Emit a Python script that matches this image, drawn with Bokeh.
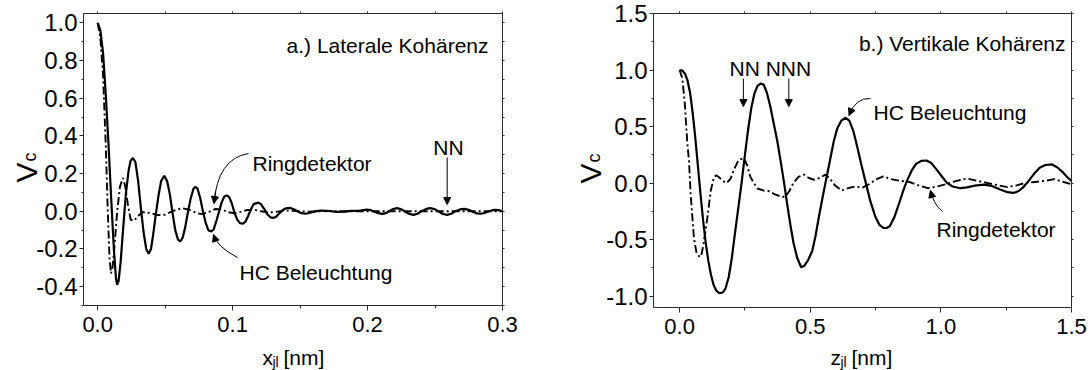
from bokeh.plotting import figure
from bokeh.models import (Range1d, FixedTicker, LinearAxis, Label, Arrow, NormalHead,
                          PrintfTickFormatter, CustomJSTickFormatter)
from bokeh.embed import file_html
from bokeh.resources import INLINE
import math

# ---------------- data: a.) lateral coherence ----------------
LAT_X_HC = [0.000, 0.002, 0.004, 0.006, 0.008, 0.010, 0.012, 0.0135, 0.0144, 0.0155,
            0.017, 0.019, 0.021, 0.023, 0.0245, 0.0262, 0.028, 0.030, 0.032, 0.034,
            0.036, 0.0378, 0.0395, 0.041, 0.043, 0.045, 0.047, 0.0494, 0.0515, 0.0535,
            0.0555, 0.0575, 0.0595, 0.0613, 0.063, 0.065, 0.067, 0.069, 0.071, 0.0724,
            0.074, 0.076, 0.078, 0.080, 0.082, 0.0842, 0.086, 0.088, 0.090, 0.092,
            0.094, 0.0958, 0.0975, 0.0995, 0.1015, 0.1035, 0.1055, 0.1077, 0.1095, 0.1115,
            0.1135, 0.1155, 0.119, 0.121, 0.1235, 0.126, 0.128, 0.130, 0.132, 0.1345,
            0.137, 0.1395, 0.1427, 0.145, 0.148, 0.151, 0.154, 0.157, 0.160, 0.165,
            0.170, 0.177, 0.183, 0.188, 0.194, 0.1995, 0.2025, 0.205, 0.208, 0.2107,
            0.2135, 0.216, 0.219, 0.2218, 0.2245, 0.2275, 0.231, 0.234, 0.237, 0.240,
            0.2435, 0.2464, 0.2495, 0.2525, 0.2555, 0.2588, 0.262, 0.265, 0.2685, 0.2717,
            0.275, 0.278, 0.281, 0.284, 0.287, 0.290, 0.2925, 0.2946, 0.297, 0.300]
LAT_V_HC = [1.00, 0.96, 0.84, 0.62, 0.36, 0.07, -0.20, -0.35, -0.39, -0.37,
            -0.27, -0.08, 0.10, 0.22, 0.27, 0.283, 0.26, 0.16, 0.02, -0.11,
            -0.20, -0.226, -0.20, -0.13, -0.02, 0.08, 0.16, 0.189, 0.16, 0.09,
            -0.01, -0.10, -0.15, -0.16, -0.14, -0.08, 0.00, 0.07, 0.12, 0.13,
            0.12, 0.07, 0.00, -0.06, -0.10, -0.107, -0.095, -0.05, 0.00, 0.05,
            0.08, 0.084, 0.075, 0.04, -0.01, -0.045, -0.063, -0.066, -0.055, -0.025,
            0.01, 0.038, 0.046, 0.038, 0.012, -0.018, -0.032, -0.035, -0.03, -0.012,
            0.006, 0.016, 0.018, 0.012, 0.0, -0.010, -0.013, -0.009, -0.002, 0.004,
            0.003, -0.003, -0.002, 0.002, 0.004, 0.009, 0.006, -0.002, -0.010, -0.014,
            -0.01, 0.0, 0.012, 0.017, 0.012, 0.0, -0.014, -0.019, -0.013, 0.0,
            0.013, 0.017, 0.012, 0.0, -0.013, -0.019, -0.013, 0.0, 0.01, 0.013,
            0.008, -0.002, -0.011, -0.013, -0.008, 0.0, 0.006, 0.008, 0.006, 0.0]

LAT_X_RING = [0.000, 0.002, 0.004, 0.006, 0.0075, 0.0088, 0.0099, 0.011, 0.0125, 0.0145,
              0.0165, 0.0187, 0.0205, 0.0225, 0.0245, 0.027, 0.030, 0.033, 0.036, 0.040,
              0.045, 0.050, 0.055, 0.0625, 0.068, 0.073, 0.077, 0.082, 0.087, 0.092,
              0.097, 0.101, 0.106, 0.111, 0.116, 0.121, 0.126, 0.132, 0.138, 0.145,
              0.155, 0.170, 0.200, 0.250, 0.300]
LAT_V_RING = [1.00, 0.92, 0.72, 0.35, 0.00, -0.25, -0.33, -0.30, -0.18, 0.00,
              0.13, 0.177, 0.13, 0.03, -0.045, -0.05, -0.025, -0.005, -0.005, -0.012,
              -0.02, -0.018, 0.000, 0.017, 0.008, -0.008, -0.015, -0.005, 0.012, 0.010,
              -0.005, -0.010, -0.003, 0.007, 0.008, 0.0, -0.006, -0.003, 0.004, 0.003,
              -0.002, 0.001, 0.0, 0.0, 0.0]

# ---------------- data: b.) vertical coherence ----------------
VER_Z_HC = [0.000, 0.010, 0.020, 0.030, 0.040, 0.050, 0.060, 0.070, 0.080, 0.090,
            0.100, 0.110, 0.120, 0.130, 0.140, 0.150, 0.158, 0.166, 0.176, 0.188,
            0.200, 0.212, 0.224, 0.237, 0.250, 0.262, 0.274, 0.286, 0.298, 0.311,
            0.322, 0.334, 0.347, 0.360, 0.374, 0.387, 0.400, 0.412, 0.424, 0.436,
            0.450, 0.465, 0.478, 0.492, 0.5075, 0.520, 0.533, 0.546, 0.558, 0.572,
            0.590, 0.603, 0.618, 0.635, 0.650, 0.665, 0.680, 0.697, 0.713, 0.730,
            0.748, 0.765, 0.780, 0.792, 0.805, 0.822, 0.840, 0.857, 0.870, 0.888,
            0.905, 0.925, 0.945, 0.962, 0.980, 1.000, 1.024, 1.045, 1.075, 1.100,
            1.130, 1.164, 1.195, 1.225, 1.255, 1.278, 1.298, 1.316, 1.336, 1.356,
            1.378, 1.400, 1.425, 1.445, 1.465, 1.485, 1.500]
VER_V_HC = [1.000, 0.995, 0.97, 0.91, 0.80, 0.62, 0.40, 0.15, -0.10, -0.33,
            -0.53, -0.69, -0.81, -0.90, -0.95, -0.97, -0.972, -0.965, -0.93, -0.83,
            -0.66, -0.44, -0.23, 0.00, 0.25, 0.47, 0.66, 0.79, 0.86, 0.881,
            0.87, 0.80, 0.68, 0.53, 0.37, 0.19, 0.00, -0.19, -0.37, -0.53,
            -0.66, -0.744, -0.73, -0.68, -0.60, -0.47, -0.30, -0.14, 0.00, 0.16,
            0.37, 0.48, 0.55, 0.578, 0.55, 0.46, 0.32, 0.15, 0.00, -0.16,
            -0.29, -0.37, -0.395, -0.397, -0.38, -0.30, -0.18, -0.06, 0.02, 0.11,
            0.17, 0.197, 0.200, 0.18, 0.13, 0.07, 0.00, -0.03, -0.045, -0.038,
            -0.022, -0.013, -0.025, -0.055, -0.080, -0.087, -0.07, -0.035, 0.02, 0.08,
            0.135, 0.16, 0.165, 0.14, 0.10, 0.05, 0.02]

VER_Z_RING = [0.000, 0.010, 0.020, 0.029, 0.036, 0.042, 0.049, 0.055, 0.065, 0.077,
              0.085, 0.093, 0.106, 0.119, 0.131, 0.140, 0.152, 0.165, 0.180, 0.195,
              0.208, 0.225, 0.245, 0.258, 0.270, 0.284, 0.300, 0.320, 0.340, 0.365,
              0.390, 0.405, 0.420, 0.435, 0.455, 0.476, 0.495, 0.515, 0.535, 0.558,
              0.575, 0.595, 0.620, 0.645, 0.670, 0.700, 0.725, 0.750, 0.780, 0.810,
              0.845, 0.880, 0.915, 0.950, 0.985, 1.020, 1.060, 1.100, 1.140, 1.180,
              1.220, 1.255, 1.290, 1.320, 1.360, 1.400, 1.435, 1.470, 1.500]
VER_V_RING = [1.00, 0.93, 0.70, 0.37, 0.19, -0.09, -0.31, -0.49, -0.62, -0.655,
              -0.62, -0.515, -0.31, -0.07, 0.05, 0.07, 0.05, 0.02, 0.00, 0.04,
              0.12, 0.20, 0.224, 0.16, 0.06, 0.0, -0.05, -0.065, -0.07, -0.10,
              -0.12, -0.12, -0.07, 0.00, 0.055, 0.075, 0.045, 0.03, 0.045, 0.075,
              0.04, -0.02, -0.065, -0.045, -0.03, -0.04, -0.01, 0.03, 0.06, 0.035,
              0.02, 0.01, -0.02, -0.045, -0.03, -0.01, 0.02, 0.04, 0.02, 0.00,
              -0.02, -0.035, -0.02, 0.00, 0.01, 0.02, 0.035, 0.01, -0.01]

# nearest-neighbour markers
NN_LATERAL = 0.259
NN_VERTICAL = 0.244
NNN_VERTICAL = 0.418

# axis extents and ticks
LAT_XR, LAT_YR = (-0.0105, 0.3), (-0.5, 1.05)
VER_XR, VER_YR = (-0.1, 1.5), (-1.1, 1.5)
LAT_X_TICKS, LAT_X_MINOR = [0.0, 0.1, 0.2, 0.3], [0.05, 0.15, 0.25]
LAT_Y_TICKS = [-0.4, -0.2, 0.0, 0.2, 0.4, 0.6, 0.8, 1.0]
LAT_Y_MINOR = [-0.5, -0.3, -0.1, 0.1, 0.3, 0.5, 0.7, 0.9]
VER_X_TICKS, VER_X_MINOR = [0.0, 0.5, 1.0, 1.5], [0.25, 0.75, 1.25]
VER_Y_TICKS = [-1.0, -0.5, 0.0, 0.5, 1.0, 1.5]
VER_Y_MINOR = [-0.75, -0.25, 0.25, 0.75, 1.25]

# ---------------- styling / page geometry ----------------
W, H = 1091, 370
FONT = "Liberation Sans"
FS = "21px"
INK = "black"
AXIS = "#2b2b2b"
DASHDOT = "8 3 2 3"
# plot boxes on the canvas: left, right, top, bottom (pixels)
BOX_A = (83, 502, 13, 305)
BOX_B = (653, 1071, 13, 307)


class Panel:
    """Maps one plot box onto the full canvas with its own pair of ranges."""

    def __init__(self, box, xr, yr):
        l, r, t, b = box
        self.sx = (xr[1] - xr[0]) / (r - l)
        self.sy = (yr[1] - yr[0]) / (b - t)
        self.x0 = xr[0] - l * self.sx
        self.y1 = yr[1] + t * self.sy
        self.xrange = Range1d(self.x0, xr[1] + (W - r) * self.sx)
        self.yrange = Range1d(yr[0] - (H - b) * self.sy, self.y1)

    def at(self, px, py):
        return self.x0 + px * self.sx, self.y1 - py * self.sy


pa = Panel(BOX_A, LAT_XR, LAT_YR)
pb = Panel(BOX_B, VER_XR, VER_YR)

p = figure(width=W, height=H, x_range=pa.xrange, y_range=pa.yrange,
           output_backend="svg", toolbar_location=None, min_border=0,
           x_axis_location=None, y_axis_location=None)
p.extra_x_ranges = {"b": pb.xrange}
p.extra_y_ranges = {"b": pb.yrange}
p.grid.visible = False
p.outline_line_color = None
p.background_fill_color = "white"
p.border_fill_color = "white"

NAMES = {id(pa): "default", id(pb): "b"}


def rn(panel):
    n = NAMES[id(panel)]
    return dict(x_range_name=n, y_range_name=n)


def styled_axis(panel, ticks, minor, loc, bounds, tick_out, minor_out, standoff,
                labelled, size=FS):
    ax = LinearAxis(ticker=FixedTicker(ticks=ticks, minor_ticks=minor),
                    fixed_location=loc, bounds=bounds, **rn(panel))
    ax.axis_line_color = AXIS
    ax.major_tick_line_color = AXIS
    ax.minor_tick_line_color = AXIS
    ax.major_tick_in = 0
    ax.minor_tick_in = 0
    ax.major_tick_out = tick_out
    ax.minor_tick_out = minor_out
    ax.major_label_standoff = standoff
    if labelled:
        ax.formatter = PrintfTickFormatter(format="%.1f")
        ax.major_label_text_font = FONT
        ax.major_label_text_font_size = size
        ax.major_label_text_color = INK
    else:
        ax.formatter = CustomJSTickFormatter(code="return ''")
    return ax


def add_frame_axes(panel, xr, yr, xt, xm, yt, ym):
    p.add_layout(styled_axis(panel, xt, xm, yr[0], xr, 5, 3, 6, True, "22px"), "below")
    p.add_layout(styled_axis(panel, xt, xm, yr[1], xr, 2, 2, 0, False), "above")
    p.add_layout(styled_axis(panel, yt, ym, xr[0], yr, 4, 2, 2, True, "24px"), "left")
    p.add_layout(styled_axis(panel, yt, ym, xr[1], yr, 2, 2, 0, False), "right")


def text(panel, px, py, s, size=FS, align="left", angle=0.0):
    x, y = panel.at(px, py)
    p.add_layout(Label(x=x, y=y, text=s, text_font=FONT, text_font_size=size,
                       text_color=INK, text_align=align, text_baseline="alphabetic",
                       angle=angle, **rn(panel)))


def arrow(panel, x0, y0, x1, y1):
    p.add_layout(Arrow(end=NormalHead(size=7, fill_color=INK, line_color=INK),
                       x_start=x0, y_start=y0, x_end=x1, y_end=y1,
                       line_color=INK, line_width=1, **rn(panel)))


def curved_arrow(panel, start, ctrl, end):
    (x0, y0), (cx, cy), (x1, y1) = panel.at(*start), panel.at(*ctrl), panel.at(*end)
    p.quadratic(x0=[x0], y0=[y0], x1=[x1], y1=[y1], cx=[cx], cy=[cy],
                line_color=INK, line_width=1, **rn(panel))
    t = 0.85
    bx = (1 - t) ** 2 * start[0] + 2 * (1 - t) * t * ctrl[0] + t ** 2 * end[0]
    by = (1 - t) ** 2 * start[1] + 2 * (1 - t) * t * ctrl[1] + t ** 2 * end[1]
    hx, hy = panel.at(bx, by)
    arrow(panel, hx, hy, x1, y1)


def axis_titles(panel, v_base, x_left, var):
    vx, vy = v_base
    text(panel, vx, vy, "V", size="30px", angle=math.pi / 2)
    text(panel, vx + 3, vy - 21, "c", size="18px", angle=math.pi / 2)
    text(panel, x_left, 357, var)
    text(panel, x_left + 10, 361, "jl", size="14px")
    text(panel, x_left + 21, 357, "[nm]")


# ---------------- panel a: lateral ----------------
add_frame_axes(pa, LAT_XR, LAT_YR, LAT_X_TICKS, LAT_X_MINOR, LAT_Y_TICKS, LAT_Y_MINOR)
p.line(LAT_X_RING, LAT_V_RING, line_color=INK, line_width=1.9, line_dash=DASHDOT)
p.line(LAT_X_HC, LAT_V_HC, line_color=INK, line_width=2.2)

text(pa, 488, 45, "a.) Laterale Kohärenz", align="right")
text(pa, 252, 163, "Ringdetektor")
text(pa, 239, 272, "HC Beleuchtung")
text(pa, 448, 147, "NN", align="center")
_, y_top = pa.at(0, 157)
_, y_tip = pa.at(0, 204)
arrow(pa, NN_LATERAL, y_top, NN_LATERAL, y_tip)
curved_arrow(pa, (248, 153), (217, 158), (213.5, 203))
curved_arrow(pa, (237, 257), (216, 246), (213, 234))
axis_titles(pa, (26, 182), 262, "x")

# ---------------- panel b: vertical ----------------
add_frame_axes(pb, VER_XR, VER_YR, VER_X_TICKS, VER_X_MINOR, VER_Y_TICKS, VER_Y_MINOR)
p.line(VER_Z_RING, VER_V_RING, line_color=INK, line_width=1.9, line_dash=DASHDOT, **rn(pb))
p.line(VER_Z_HC, VER_V_HC, line_color=INK, line_width=2.2, **rn(pb))

text(pb, 1065, 43, "b.) Vertikale Kohärenz", align="right")
text(pb, 729, 68, "NN NNN")
text(pb, 873, 112, "HC Beleuchtung")
text(pb, 936, 229, "Ringdetektor")
_, y_top = pb.at(0, 78)
_, y_tip = pb.at(0, 106)
arrow(pb, NN_VERTICAL, y_top, NN_VERTICAL, y_tip)
arrow(pb, NNN_VERTICAL, y_top, NNN_VERTICAL, y_tip)
curved_arrow(pb, (870, 98), (855, 97), (848.5, 115))
curved_arrow(pb, (942, 211), (933, 204), (930, 190))
axis_titles(pb, (590, 183), 830, "z")

open("out.html", "w").write(file_html(p, INLINE))
